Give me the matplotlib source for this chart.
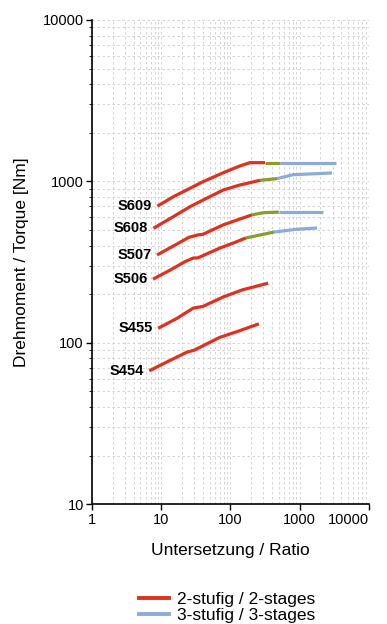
import numpy as np
import matplotlib
matplotlib.use('Agg')
import matplotlib.pyplot as plt
from matplotlib.lines import Line2D

plt.rcParams['font.family'] = ['Liberation Sans', 'DejaVu Sans']

# Two-stage (red) curves: ratio, torque
s609_x = [8.8, 14.9, 26, 40, 79, 137, 191, 316]
s609_y = [703, 803, 906, 995, 1132, 1246, 1306, 1306]
s608_x = [7.7, 14.9, 26, 45, 79, 137, 267]
s608_y = [512, 604, 697, 785, 885, 950, 1015]
s507_x = [8.7, 15, 25, 34, 40, 78, 130, 204]
s507_y = [350, 398, 450, 466, 470, 537, 580, 620]
s506_x = [7.6, 13, 22, 29, 34, 70, 110, 167]
s506_y = [248, 280, 318, 335, 336, 386, 415, 446]
s455_x = [9, 17, 29, 40, 78, 150, 350]
s455_y = [123, 142, 164, 168, 192, 213, 234]
s454_x = [6.7, 12, 23.5, 30, 70, 130, 257]
s454_y = [67, 76, 87.5, 90, 108, 118, 131]

# transition (olive) segments
g609_x, g609_y = [316, 519], [1306, 1306]
g608_x, g608_y = [267, 470], [1015, 1040]
g507_x, g507_y = [204, 300, 500], [620, 640, 645]
g506_x, g506_y = [167, 425], [446, 485]

# three-stage (blue) curves
b609_x, b609_y = [519, 3330], [1306, 1306]
b608_x, b608_y = [470, 800, 2930], [1040, 1100, 1127]
b507_x, b507_y = [500, 2180], [645, 645]
b506_x, b506_y = [425, 900, 1780], [485, 505, 514]

series = [
    ('S609', s609_x, s609_y, g609_x, g609_y, b609_x, b609_y),
    ('S608', s608_x, s608_y, g608_x, g608_y, b608_x, b608_y),
    ('S507', s507_x, s507_y, g507_x, g507_y, b507_x, b507_y),
    ('S506', s506_x, s506_y, g506_x, g506_y, b506_x, b506_y),
    ('S455', s455_x, s455_y, None, None, None, None),
    ('S454', s454_x, s454_y, None, None, None, None),
]

RED = '#e0301e'
BLUE = '#8eaadb'
GREEN = '#8c9a2e'

fig = plt.figure(figsize=(3.87, 6.24), dpi=100)
ax = fig.add_axes([0.238, 0.192, 0.715, 0.776])
ax.set_xscale('log')
ax.set_yscale('log')
ax.set_xlim(1, 10000)
ax.set_ylim(10, 10000)

ax.grid(True, which='both', color='#cfcfcf', linestyle=(0, (3, 3)), linewidth=0.6)
ax.set_axisbelow(True)

for name, rx, ry, gx, gy, bx, by in series:
    if bx is not None:
        ax.plot(bx, by, color=BLUE, lw=2.3, solid_capstyle='butt')
        ax.plot(gx, gy, color=GREEN, lw=2.3, solid_capstyle='butt')
    ax.plot(rx, ry, color=RED, lw=2.3, solid_capstyle='butt')
    ax.text(rx[0] / 1.2, ry[0], name, ha='right', va='center',
            fontsize=10.5, fontweight='bold')

for s in ['top', 'right']:
    ax.spines[s].set_visible(False)
ax.spines['left'].set_linewidth(1.2)
ax.spines['bottom'].set_linewidth(1.2)

ax.set_xticks([1, 10, 100, 1000, 10000])
ax.set_xticklabels(['1', '10', '100', '1000', '10000'])
ax.set_yticks([10, 100, 1000, 10000])
ax.set_yticklabels(['10', '100', '1000', '10000'])
ax.tick_params(axis='both', which='major', labelsize=10.5, length=4, width=1, pad=2)
ax.tick_params(axis='x', which='minor', length=0)
ax.tick_params(axis='y', which='minor', length=2, width=0.6)
# keep the last x tick label inside the figure
ax.get_xticklabels()[-1].set_horizontalalignment('right')

ax.set_xlabel('Untersetzung / Ratio', fontsize=12.5, labelpad=12)
ax.set_ylabel('Drehmoment / Torque [Nm]', fontsize=12.5, labelpad=10)

handles = [Line2D([], [], color=RED, lw=2.8),
           Line2D([], [], color=BLUE, lw=2.8)]
fig.legend(handles, ['2-stufig / 2-stages', '3-stufig / 3-stages'],
           loc='upper left', bbox_to_anchor=(0.342, 0.062), frameon=False,
           fontsize=12.5, handlelength=1.7, handletextpad=0.5,
           labelspacing=0.05, borderaxespad=0)

fig.savefig('out.png', dpi=100)
